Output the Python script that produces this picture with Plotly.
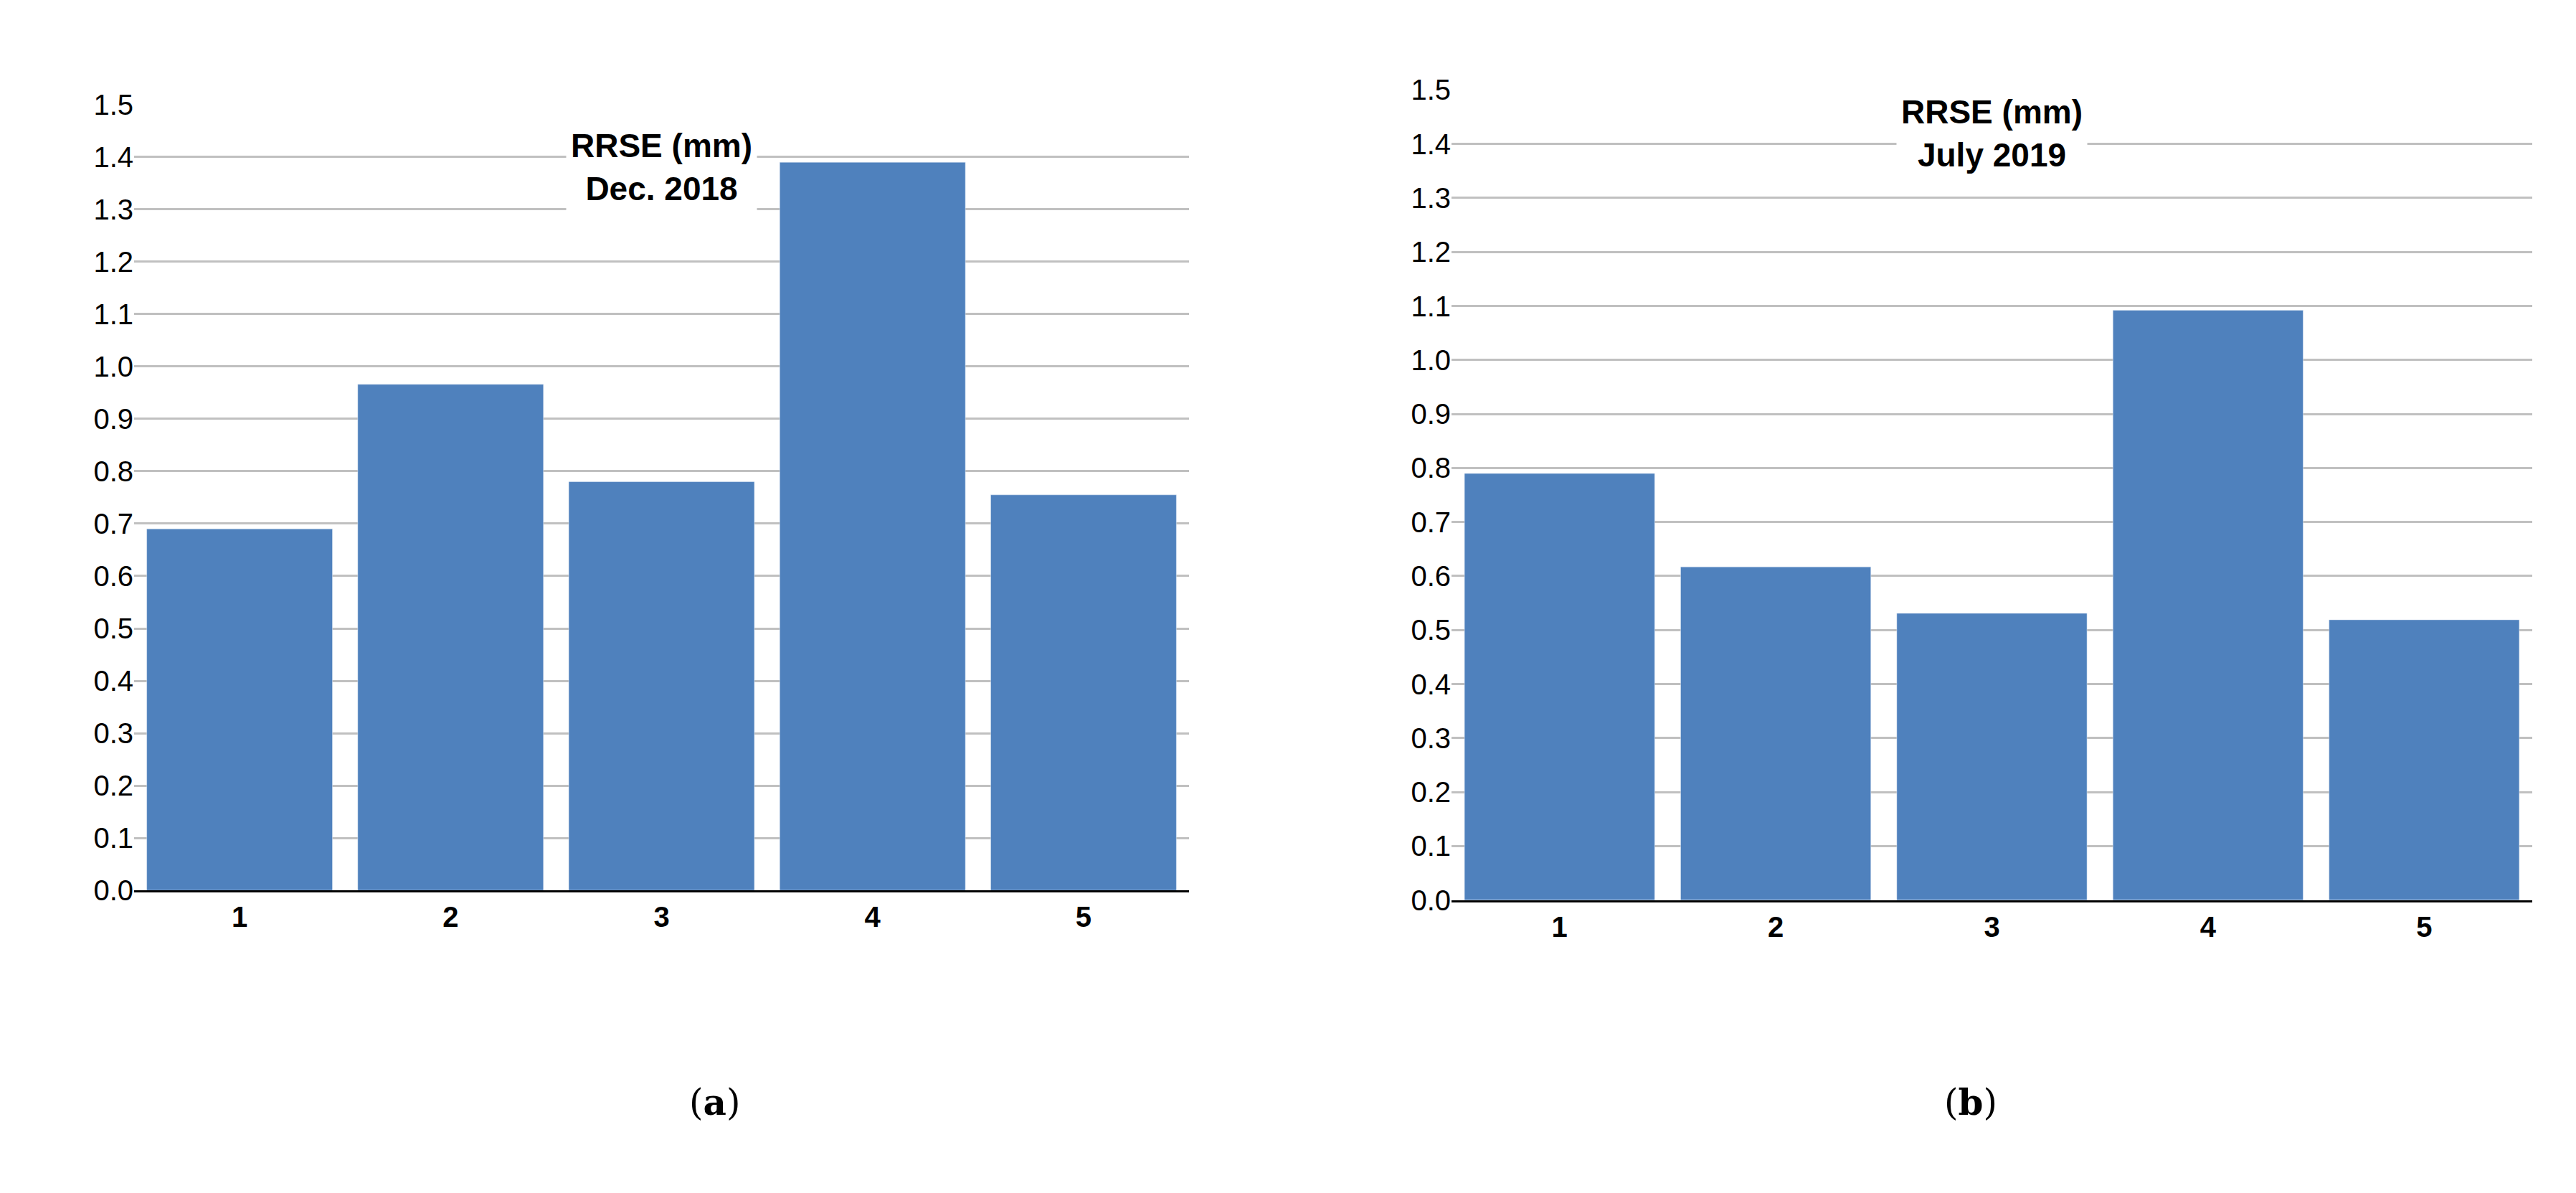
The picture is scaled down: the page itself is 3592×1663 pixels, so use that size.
import plotly.graph_objects as go

cats = ["1", "2", "3", "4", "5"]
dec2018 = [0.69, 0.966, 0.78, 1.39, 0.755]
jul2019 = [0.79, 0.617, 0.531, 1.092, 0.519]
ticks = [round(i * 0.1, 1) for i in range(16)]
tick_labels = [f"{t:.1f}" for t in ticks]

W, H = 3592, 1663
fig = go.Figure()
fig.add_trace(go.Bar(x=cats, y=dec2018, marker_color="#4f81bd", xaxis="x", yaxis="y"))
fig.add_trace(go.Bar(x=cats, y=jul2019, marker_color="#4f81bd", xaxis="x2", yaxis="y2"))

def yax(dom, anchor):
    return dict(domain=dom, anchor=anchor, range=[0, 1.5], tickvals=ticks, ticktext=tick_labels,
                showgrid=True, gridcolor="#c0c0c0", gridwidth=3, zeroline=False,
                tickfont=dict(family="Liberation Sans", size=40, color="black"), ticks="", showline=False)

def xax(dom, anchor):
    return dict(domain=dom, anchor=anchor, showline=True, linecolor="black", linewidth=3,
                tickfont=dict(family="Liberation Sans", size=40, color="black"), ticks="",
                tickprefix="<b>", ticksuffix="</b>")

fig.update_layout(
    width=W, height=H, margin=dict(l=0, r=0, t=0, b=0), showlegend=False,
    plot_bgcolor="white", paper_bgcolor="white", bargap=0.12,
    xaxis=xax([179/W, 1650/W], "y"), yaxis=yax([1-1244/H, 1-119/H], "x"),
    xaxis2=xax([2016/W, 3523/W], "y2"), yaxis2=yax([1-1258/H, 1-98/H], "x2"),
)
tf = dict(family="Liberation Sans", size=46, color="black")
fig.add_annotation(x=0.5, y=1.38, xref="x domain", yref="y", text="<b>RRSE (mm)<br>Dec. 2018</b>",
                   showarrow=False, bgcolor="white", font=tf, borderpad=6)
fig.add_annotation(x=0.5, y=1.42, xref="x2 domain", yref="y2", text="<b>RRSE (mm)<br>July 2019</b>",
                   showarrow=False, bgcolor="white", font=tf, borderpad=6)
lf = dict(family="DejaVu Serif", size=50, color="black")
fig.add_annotation(x=951/W, y=1-1580/H, xref="paper", yref="paper", text="(<b>a</b>)", showarrow=False, font=lf)
fig.add_annotation(x=2779/W, y=1-1580/H, xref="paper", yref="paper", text="(<b>b</b>)", showarrow=False, font=lf)
fig.write_html("out.html")
